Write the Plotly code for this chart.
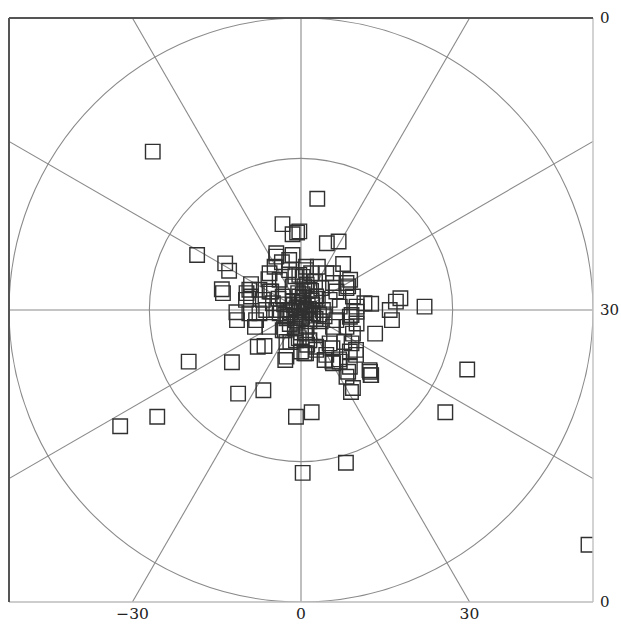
import math
import plotly.graph_objects as go

# ---- data ----
x_vals = [
    -26.4, 2.9, -3.3, -1.5, -0.7, 4.6, 6.7, -18.5, -13.5, -12.8, 7.5, -14.1, -13.9,
    17.7, 22.0, 12.5, 16.9, 15.8, -4.4, 8.4, 8.75,
    16.2, 13.2, -11.4, -8.2, -6.5, -2.8, 0.0, -20.0, -12.3, 5.6, 8.4, 12.3, 12.4, 29.6,
    -11.2, -6.7, 8.9, -25.6, -32.2, -0.9, 1.9, 25.7, 8.0, 0.3, 51.2, 4.2, 6.8, 9.8,
    7.7, 5.6, 9.8, -1.9, -2.9,
    -11.5, -8.9, -9.7, -8.9, -3.4, -5.8, -5.3, -4.7, -0.3, 0.9, -2.1,
    -0.3, 3.0, 5.7, 8.1, 11.3, 9.25, 8.7,
    5.7, 1.8, 4.5, 6.3, 8.1, 9.9, 0.6, 2.7, 5.1, 6.9,
    -4.4, -1.5, 0.9, -5.6, -3.8, -9.2, -7.4, -5.6, -9.8, -6.8, -5.0, -3.25, -1.5, 0.3,
    -2.1, -0.3, 1.5, -7.4, -3.8, -2.1, 0.9, -9.2,
    -7.7, -2.6, -2.6, -5.6, -8.0, -4.4, -0.9, 0.9, -0.9, 2.7, 0.6, -3.25, 2.1, -6.2, -2.6,
    9.0, 9.25, 9.0, 8.7, 5.1, 4.5, 5.7, 6.9, 8.7, 12.2, 12.5, 8.1, 9.25, 2.7, 3.3, 6.3,
    8.1, 0.9, 1.5, 3.9, 2.1, 5.7, 9.9, 9.9,
    0.5, -1.0, 1.5, -0.5, 2.0, -1.5, 1.0, 3.0, -2.0, 0.0, 3.5, -3.0, 1.0, 2.5, -1.0, 0.2,
    -0.8, 1.2, 2.2, -1.8, 0.4, 3.2, -2.4, 1.8,
    -0.2, 0.7, -1.3, 1.9, -0.6, 0.3, 2.6, -2.8, 1.4, -1.1, 0.1, 4.2, -4.0, 3.6, -0.4, 1.1,
]
y_vals = [
    28.2, 19.8, 15.3, 13.5, 13.8, 11.9, 12.2, 9.8, 8.3, 7.0, 8.2, 3.7, 3.0,
    2.1, 0.6, 1.1, 1.5, 0.0, 10.1, 4.2, 5.4,
    -1.8, -4.2, -1.8, -3.0, -6.4, -8.9, -7.4, -9.2, -9.3, -9.2, -11.0, -11.0, -11.6, -10.6,
    -14.9, -14.3, -14.6, -19.0, -20.7, -19.0, -18.2, -18.2, -27.2, -29.0, -41.8, -8.9, -8.8, -7.1,
    -5.7, -6.8, -8.0, -5.7, -3.6,
    -0.4, 4.6, 3.0, 2.4, 8.5, 5.5, 3.3, 7.7, 6.25, 7.1, 8.9,
    14.0, 7.7, 6.55, 4.8, 1.2, 2.4, -1.2,
    4.8, 6.55, 6.55, 3.3, 3.9, -0.3, 4.2, 2.4, 1.8, 0.6,
    9.5, 9.8, 7.7, 6.55, 5.4, 3.6, 3.6, 3.3, 1.8, 1.8, 1.2, 2.4, 4.2, 5.9,
    7.1, 2.4, 3.6, -0.6, -0.6, 0.0, 0.0, -0.6,
    -6.55, -8.3, -5.7, -3.0, -1.8, 0.0, -1.8, -4.2, -5.4, -7.1, -7.7, -3.6, -0.6, 0.0, -1.5,
    -0.9, -4.2, -5.95, -7.4, -5.95, -8.0, -9.5, -9.2, -10.1, -10.7, -11.6, -11.9, -13.9, -6.55, -4.2, -1.8,
    -3.0, -7.7, -5.4, 0.0, -0.6, -3.0, 0.6, -2.4,
    1.0, -1.0, -2.0, 3.0, 1.0, 1.5, -3.0, 2.0, -2.5, -4.0, -2.0, 1.0, 4.5, 5.0, 6.0, -1.2,
    0.3, 0.8, -1.0, -0.4, 2.2, -0.8, -1.2, 3.4,
    0.5, -0.3, 0.9, 1.7, -2.1, 2.8, -1.6, -0.9, 0.2, -3.3, 1.3, -1.1, 2.0, 3.9, -5.0, -6.2,
]

x_tick_vals = [-30, 0, 30]
x_tick_text = ["\u221230", "0", "30"]
y_tick_vals = [51.99, 0, -51.99]
y_tick_text = ["0", "30", "0"]

ring_radii = [27.0, 52.0]
spoke_angles = list(range(0, 360, 30))
half_range = 52.0

FONT = "DejaVu Serif"
GRID = "#8a8a8a"

fig = go.Figure()

# spokes, clipped to the square frame
sx, sy = [], []
for a in spoke_angles:
    t = math.radians(a)
    c, s = math.cos(t), math.sin(t)
    L = half_range / max(abs(c), abs(s))
    sx += [0, L * c, None]
    sy += [0, L * s, None]
fig.add_trace(go.Scatter(x=sx, y=sy, mode="lines",
                         line=dict(color=GRID, width=1.1), hoverinfo="skip",
                         showlegend=False))

fig.add_trace(go.Scatter(
    x=x_vals, y=y_vals, mode="markers",
    marker=dict(symbol="square-open", size=14.5, color="#303030",
                line=dict(width=1.4, color="#303030")),
    showlegend=False))

for r in ring_radii:
    fig.add_shape(type="circle", xref="x", yref="y", x0=-r, y0=-r, x1=r, y1=r,
                  line=dict(color=GRID, width=1.1), layer="below")

# frame: dark left/top, light right/bottom
fig.add_shape(type="line", xref="paper", yref="paper", x0=1, y0=0, x1=1, y1=1,
              line=dict(color="#c4c4c4", width=1.5))
fig.add_shape(type="line", xref="paper", yref="paper", x0=0, y0=0, x1=1, y1=0,
              line=dict(color="#bdbdbd", width=1.5))
fig.add_shape(type="line", xref="paper", yref="paper", x0=0, y0=0, x1=0, y1=1,
              line=dict(color="#555555", width=2))
fig.add_shape(type="line", xref="paper", yref="paper", x0=0, y0=1, x1=1, y1=1,
              line=dict(color="#555555", width=2))

fig.update_layout(
    width=621, height=625,
    margin=dict(l=9, r=28, t=18, b=23, pad=0),
    paper_bgcolor="white", plot_bgcolor="white",
    font=dict(family=FONT, size=16, color="#222222"),
    xaxis=dict(range=[-half_range, half_range], showgrid=False, zeroline=False,
               tickmode="array", tickvals=x_tick_vals, ticktext=x_tick_text,
               ticks="", ticklen=0, tickfont=dict(size=15.5),
               showline=False, fixedrange=True, automargin=False),
    yaxis=dict(range=[-half_range, half_range], showgrid=False, zeroline=False,
               side="right", tickmode="array", tickvals=y_tick_vals,
               ticktext=y_tick_text, ticks="outside", ticklen=3,
               tickfont=dict(size=15),
               tickcolor="rgba(0,0,0,0)", showline=False, fixedrange=True,
               automargin=False),
)

fig.write_html(
    "out.html",
    config={"displayModeBar": False, "staticPlot": True},
    post_script="document.body.style.margin='0';document.body.style.overflow='hidden';",
)
